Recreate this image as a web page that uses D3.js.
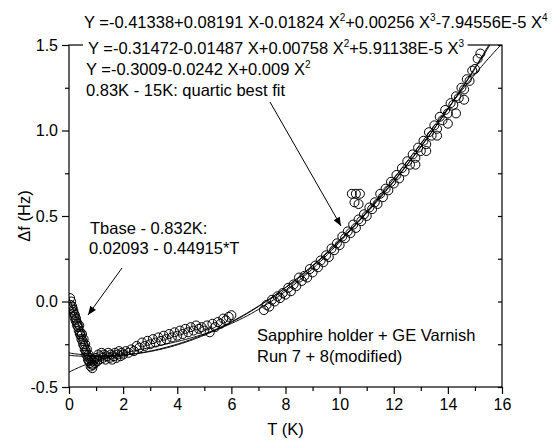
<!DOCTYPE html>
<html>
<head>
<meta charset="utf-8">
<script src="https://cdn.jsdelivr.net/npm/d3@7"></script>
<style>
  body { margin: 0; background: #fff; }
  svg text { font-family: "Liberation Sans", Arial, sans-serif; fill: #000; }
</style>
</head>
<body>
<script>
// --- data ---
// base temperature region (0 - 1.2 K)
const baseT = [0.04,0.06,0.08,0.1,0.12,0.14,0.16,0.18,0.2,0.22,0.24,0.26,0.28,0.3,0.32,0.34,0.36,0.38,0.4,0.42,
  0.44,0.46,0.48,0.5,0.52,0.54,0.56,0.58,0.6,0.62,0.64,0.66,0.68,0.7,0.72,0.74,0.76,0.78,0.8,0.82,
  0.84,0.86,0.88,0.9,0.93,0.96,1.0,1.04,1.08,1.12,1.16,1.2];
const baseF = [0.02,-0.02,0.0,-0.04,-0.03,-0.06,-0.05,-0.07,-0.09,-0.08,-0.11,-0.1,-0.12,-0.14,-0.13,-0.15,-0.17,-0.14,-0.19,-0.18,
  -0.2,-0.22,-0.19,-0.23,-0.25,-0.22,-0.26,-0.28,-0.25,-0.29,-0.31,-0.28,-0.32,-0.34,-0.31,-0.35,-0.33,-0.36,-0.38,-0.34,
  -0.37,-0.39,-0.35,-0.37,-0.34,-0.36,-0.33,-0.35,-0.31,-0.34,-0.32,-0.3];

// 1.25 - 6 K
const midT = [1.25,1.3,1.35,1.4,1.45,1.5,1.55,1.6,1.65,1.7,1.75,1.8,1.85,1.9,1.95,
  2.0,2.1,2.2,2.3,2.4,2.5,2.6,2.7,2.8,2.9,3.0,3.1,3.2,3.3,3.4,3.5,3.6,3.7,3.8,3.9,
  4.0,4.1,4.2,4.3,4.4,4.5,4.6,4.7,4.8,4.9,5.0,5.1,5.2,5.3,5.4,5.5,5.6,5.7,5.8,5.9,6.0];
const midF = [-0.33,-0.31,-0.34,-0.32,-0.3,-0.33,-0.31,-0.34,-0.32,-0.3,-0.33,-0.31,-0.29,-0.32,-0.3,
  -0.31,-0.29,-0.3,-0.28,-0.29,-0.26,-0.27,-0.24,-0.26,-0.23,-0.25,-0.22,-0.24,-0.21,-0.23,-0.2,-0.22,-0.19,-0.21,-0.18,
  -0.2,-0.17,-0.19,-0.16,-0.18,-0.15,-0.17,-0.14,-0.16,-0.15,-0.17,-0.14,-0.18,-0.13,-0.15,-0.12,-0.13,-0.1,-0.11,-0.09,-0.08];

// 7.2 - 15.2 K
const highT = [7.2,7.3,7.4,7.5,7.6,7.7,7.8,7.9,8.0,8.1,8.2,8.3,8.4,8.5,8.6,8.7,8.8,8.9,9.0,9.1,
  9.2,9.3,9.4,9.5,9.6,9.7,9.8,9.9,10.0,10.1,10.2,10.3,10.4,10.5,10.6,10.7,10.8,10.9,11.0,11.1,
  11.2,11.3,11.4,11.5,11.6,11.7,11.8,11.9,12.0,12.1,12.2,12.3,12.4,12.5,12.6,12.7,12.8,12.9,13.0,13.1,
  13.2,13.3,13.4,13.5,13.6,13.7,13.8,13.9,14.0,14.1,14.2,14.3,14.4,14.5,14.6,14.7,14.8,14.9,15.0,15.1,15.2];
const highF = [-0.05,-0.02,-0.03,0.01,0.0,0.03,0.02,0.05,0.04,0.08,0.06,0.1,0.09,0.14,0.12,0.15,0.14,0.19,0.17,0.21,
  0.2,0.24,0.23,0.27,0.26,0.31,0.3,0.34,0.33,0.38,0.37,0.41,0.4,0.45,0.43,0.48,0.47,0.51,0.5,0.55,
  0.54,0.58,0.57,0.63,0.61,0.66,0.65,0.7,0.69,0.74,0.72,0.78,0.76,0.82,0.8,0.86,0.84,0.9,0.88,0.94,
  0.92,0.99,0.97,1.03,1.01,1.08,1.06,1.12,1.1,1.16,1.15,1.2,1.19,1.25,1.24,1.3,1.29,1.35,1.36,1.42,1.45];

// stray points (outliers near 10.6 K and the lower branch above 12.8 K)
const extraT = [10.45,10.6,10.75,10.55,10.7,12.8,13.2,13.6,14.0,14.3,14.6];
const extraF = [0.63,0.63,0.63,0.58,0.57,0.8,0.88,0.97,1.04,1.1,1.18];

// fit coefficients given on the chart
const quartic = [-0.41338, 0.08191, -0.01824, 0.00256, -7.94556e-5];
const cubic = [-0.31472, -0.01487, 0.00758, 5.91138e-5];
const quadratic = [-0.3009, -0.0242, 0.009];
const baseFit = [0.02093, -0.44915];

const xTicks = [0, 2, 4, 6, 8, 10, 12, 14, 16];
const xMinor = [1, 3, 5, 7, 9, 11, 13, 15];
const yTicks = [-0.5, 0.0, 0.5, 1.0, 1.5];
const yMinor = [-0.25, 0.25, 0.75, 1.25];

// --- chart ---
const width = 555, height = 444;
const x = d3.scaleLinear().domain([0, 16]).range([69, 502]);
const y = d3.scaleLinear().domain([-0.5, 1.5]).range([387, 45]);

const svg = d3.select("body").append("svg")
    .attr("width", width)
    .attr("height", height);

const defs = svg.append("defs");
defs.append("clipPath").attr("id", "plotArea")
    .append("rect")
    .attr("x", x(0)).attr("y", y(1.5))
    .attr("width", x(16) - x(0)).attr("height", y(-0.5) - y(1.5));
defs.append("marker")
    .attr("id", "head")
    .attr("markerUnits", "userSpaceOnUse")
    .attr("viewBox", "0 0 10 8")
    .attr("refX", 10).attr("refY", 4)
    .attr("markerWidth", 10).attr("markerHeight", 7)
    .attr("orient", "auto")
    .append("path").attr("d", "M0,0 L10,4 L0,8 Z").attr("fill", "#000");

const poly = c => t => c.reduce((s, a, i) => s + a * Math.pow(t, i), 0);

// fit curves
const plot = svg.append("g").attr("clip-path", "url(#plotArea)");
const line = d3.line().x(d => x(d[0])).y(d => y(d[1]));
const grid = d3.range(0, 16.001, 0.05);
[quartic, cubic, quadratic].forEach(c => {
    plot.append("path")
        .datum(grid.map(t => [t, poly(c)(t)]))
        .attr("d", line)
        .attr("fill", "none")
        .attr("stroke", "#000")
        .attr("stroke-width", 1);
});
plot.append("path")
    .datum([0, 0.832].map(t => [t, poly(baseFit)(t)]))
    .attr("d", line)
    .attr("fill", "none")
    .attr("stroke", "#000")
    .attr("stroke-width", 1);

// data points
const points = [];
[[baseT, baseF], [midT, midF], [highT, highF], [extraT, extraF]].forEach(([ts, fs]) => {
    ts.forEach((t, i) => points.push([t, fs[i]]));
});
plot.selectAll("circle")
    .data(points)
    .enter()
    .append("circle")
    .attr("cx", d => x(d[0]))
    .attr("cy", d => y(d[1]))
    .attr("r", 4.5)
    .attr("fill", "none")
    .attr("stroke", "#000")
    .attr("stroke-width", 1);

// frame
svg.append("rect")
    .attr("x", x(0)).attr("y", y(1.5))
    .attr("width", x(16) - x(0)).attr("height", y(-0.5) - y(1.5))
    .attr("fill", "none").attr("stroke", "#000").attr("stroke-width", 1.2);

function styleAxis(g) {
    g.select(".domain").remove();
    g.selectAll(".tick line").attr("stroke", "#000").attr("stroke-width", 1.2);
    g.selectAll(".tick text").attr("font-size", 16).attr("font-family", null);
}

svg.append("g").attr("transform", "translate(0," + y(-0.5) + ")")
    .call(d3.axisBottom(x).tickValues(xTicks).tickSize(7).tickPadding(5).tickFormat(d => d))
    .call(styleAxis);
svg.append("g").attr("transform", "translate(0," + y(-0.5) + ")")
    .call(d3.axisBottom(x).tickValues(xMinor).tickSize(4).tickFormat(""))
    .call(styleAxis);
svg.append("g").attr("transform", "translate(" + x(0) + ",0)")
    .call(d3.axisLeft(y).tickValues(yTicks).tickSize(7).tickPadding(4).tickFormat(d => d.toFixed(1)))
    .call(styleAxis);
svg.append("g").attr("transform", "translate(" + x(0) + ",0)")
    .call(d3.axisLeft(y).tickValues(yMinor).tickSize(4).tickFormat(""))
    .call(styleAxis);
// mirrored right axis, ticks pointing in
svg.append("g").attr("transform", "translate(" + x(16) + ",0)")
    .call(d3.axisLeft(y).tickValues(yTicks.concat(yMinor)).tickSize(4).tickFormat(""))
    .call(styleAxis);

// axis titles
svg.append("text")
    .attr("x", (x(0) + x(16)) / 2).attr("y", 435)
    .attr("text-anchor", "middle").attr("font-size", 16.5)
    .text("T (K)");
svg.append("text")
    .attr("transform", "translate(30," + (y(-0.5) + y(1.5)) / 2 + ") rotate(-90)")
    .attr("text-anchor", "middle").attr("font-size", 16.5)
    .text("\u0394f (Hz)");

// equations (parts flagged true are superscripts)
function richText(px, py, parts, bg) {
    const g = svg.append("g");
    const t = g.append("text").attr("x", px).attr("y", py).attr("font-size", 16.5);
    let raised = false;
    parts.forEach(([s, sup]) => {
        const span = t.append("tspan").text(s);
        if (sup) {
            span.attr("dy", -7).attr("font-size", 10);
            raised = true;
        } else if (raised) {
            span.attr("dy", 7);
            raised = false;
        }
    });
    if (bg) {
        const b = t.node().getBBox();
        g.insert("rect", "text")
            .attr("x", b.x - 5).attr("y", b.y - 1)
            .attr("width", b.width + 8).attr("height", b.height + 2)
            .attr("fill", "#fff");
    }
}

richText(84, 28, [["Y =-0.41338+0.08191 X-0.01824 X"], ["2", true], ["+0.00256 X"], ["3", true],
    ["-7.94556E-5 X"], ["4", true]], false);
richText(88, 54, [["Y =-0.31472-0.01487 X+0.00758 X"], ["2", true], ["+5.91138E-5 X"], ["3", true]], true);
richText(86, 75, [["Y =-0.3009-0.0242 X+0.009 X"], ["2", true]], false);
richText(86, 96, [["0.83K - 15K: quartic best fit"]], false);

svg.append("text").attr("x", 90).attr("y", 234).attr("font-size", 16.5).text("Tbase - 0.832K:");
svg.append("text").attr("x", 89).attr("y", 254).attr("font-size", 16.5).text("0.02093 - 0.44915*T");
svg.append("text").attr("x", 257).attr("y", 341).attr("font-size", 16.5).text("Sapphire holder + GE Varnish");
svg.append("text").attr("x", 257).attr("y", 362).attr("font-size", 16.5).text("Run 7 + 8(modified)");

// arrows
svg.append("line")
    .attr("x1", 270).attr("y1", 102).attr("x2", 341).attr("y2", 226)
    .attr("stroke", "#000").attr("stroke-width", 1).attr("marker-end", "url(#head)");
svg.append("line")
    .attr("x1", 122).attr("y1", 268).attr("x2", 88).attr("y2", 315)
    .attr("stroke", "#000").attr("stroke-width", 1).attr("marker-end", "url(#head)");
</script>
</body>
</html>
